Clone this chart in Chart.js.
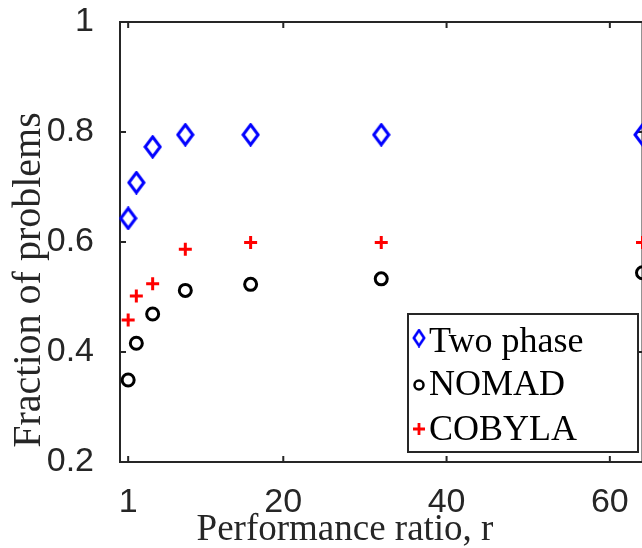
<!DOCTYPE html>
<html>
<head>
<meta charset="utf-8">
<script src="https://cdn.jsdelivr.net/npm/chart.js@4.4.1/dist/chart.umd.min.js"></script>
<style>
html, body { margin: 0; padding: 0; background: #fff; overflow: hidden; }
#wrap { width: 652px; height: 548px; }
</style>
</head>
<body>
<div id="wrap"><canvas id="chart" width="652" height="548"></canvas></div>
<script>
// performance profile data
const ratios = [1, 2, 4, 8, 16, 32, 64];
const twoPhase = [0.643, 0.708, 0.773, 0.795, 0.795, 0.795, 0.795];
const nomad = [0.349, 0.416, 0.469, 0.512, 0.523, 0.533, 0.544];
const cobyla = [0.458, 0.502, 0.524, 0.587, 0.599, 0.599, 0.599];

const seriesNames = ["Two phase", "NOMAD", "COBYLA"];
const xTicks = [1, 20, 40, 60];
const yTicks = [0.2, 0.4, 0.6, 0.8, 1];
const yTickLabels = ["0.2", "0.4", "0.6", "0.8", "1"];
const xTitle = "Performance ratio, r";
const yTitle = "Fraction of problems";

const axisColor = "#262626";

function diamond(w, h, lw, color) {
    const c = document.createElement("canvas");
    c.width = w;
    c.height = h;
    const g = c.getContext("2d");
    g.strokeStyle = color;
    g.lineWidth = lw;
    g.lineJoin = "miter";
    const m = lw / 2 + 0.5;
    g.beginPath();
    g.moveTo(w / 2, m);
    g.lineTo(w - m, h / 2);
    g.lineTo(w / 2, h - m);
    g.lineTo(m, h / 2);
    g.closePath();
    g.stroke();
    return c;
}

const bigDiamond = diamond(19, 24, 3, "#0000ff");
const smallDiamond = diamond(14, 19, 2.6, "#0000ff");

function pts(ys) {
    return ratios.map((r, i) => ({ x: r, y: ys[i] }));
}

// axes box with inward ticks, like matlab "box on"
const boxPlugin = {
    id: "box",
    beforeDatasetsDraw(chart) {
        const { ctx, chartArea: a, scales } = chart;
        ctx.save();
        ctx.strokeStyle = axisColor;
        ctx.lineWidth = 2;
        ctx.strokeRect(a.left, a.top, a.right - a.left, a.bottom - a.top);
        ctx.beginPath();
        xTicks.forEach(v => {
            const px = scales.x.getPixelForValue(v);
            ctx.moveTo(px, a.bottom); ctx.lineTo(px, a.bottom - 6);
            ctx.moveTo(px, a.top); ctx.lineTo(px, a.top + 6);
        });
        yTicks.forEach(v => {
            const py = scales.y.getPixelForValue(v);
            ctx.moveTo(a.left, py); ctx.lineTo(a.left + 6, py);
            ctx.moveTo(a.right, py); ctx.lineTo(a.right - 6, py);
        });
        ctx.stroke();
        ctx.restore();
    },
    afterDraw(chart) {
        const ctx = chart.ctx;
        ctx.save();
        // axis titles
        ctx.fillStyle = axisColor;
        ctx.font = "37px 'Liberation Serif'";
        ctx.textAlign = "center";
        ctx.textBaseline = "alphabetic";
        ctx.fillText(xTitle, 345, 540);
        ctx.translate(40, 280);
        ctx.rotate(-Math.PI / 2);
        ctx.font = "40px 'Liberation Serif'";
        ctx.fillText(yTitle, 0, 0);
        ctx.restore();

        // legend
        ctx.save();
        ctx.fillStyle = "#fff";
        ctx.fillRect(408, 314, 230, 138);
        ctx.strokeStyle = axisColor;
        ctx.lineWidth = 2;
        ctx.strokeRect(408, 314, 230, 138);
        ctx.drawImage(smallDiamond, 419 - 7, 338 - 9.5);
        ctx.strokeStyle = "#000";
        ctx.lineWidth = 2.5;
        ctx.beginPath();
        ctx.arc(419, 385, 4.5, 0, Math.PI * 2);
        ctx.stroke();
        ctx.strokeStyle = "#ff0000";
        ctx.lineWidth = 2.8;
        ctx.beginPath();
        ctx.moveTo(413, 429); ctx.lineTo(425, 429);
        ctx.moveTo(419, 423); ctx.lineTo(419, 435);
        ctx.stroke();
        ctx.fillStyle = "#000";
        ctx.font = "36px 'Liberation Serif'";
        ctx.textAlign = "left";
        ctx.textBaseline = "alphabetic";
        const rows = [352, 395, 440];
        seriesNames.forEach((n, i) => ctx.fillText(n, 429, rows[i]));
        ctx.restore();
    }
};

const ctx = document.getElementById("chart").getContext("2d");
new Chart(ctx, {
    type: "scatter",
    data: {
        datasets: [
            {
                label: seriesNames[0],
                data: pts(twoPhase),
                pointStyle: bigDiamond,
                clip: false
            },
            {
                label: seriesNames[1],
                data: pts(nomad),
                pointStyle: "circle",
                pointRadius: 6,
                borderWidth: 3,
                borderColor: "#000",
                backgroundColor: "rgba(0,0,0,0)",
                clip: false
            },
            {
                label: seriesNames[2],
                data: pts(cobyla),
                pointStyle: "cross",
                pointRadius: 6.5,
                borderWidth: 3,
                borderColor: "#ff0000",
                clip: false
            }
        ]
    },
    options: {
        responsive: false,
        animation: false,
        events: [],
        layout: { padding: { top: 22, right: 5, left: 0, bottom: 0 } },
        plugins: {
            legend: { display: false },
            tooltip: { enabled: false }
        },
        scales: {
            x: {
                type: "linear",
                min: 0,
                max: 64,
                grid: { display: false },
                border: { display: false },
                afterBuildTicks: s => { s.ticks = xTicks.map(v => ({ value: v })); },
                afterFit: s => { s.height = 86; s.paddingLeft = 0; s.paddingRight = 0; },
                ticks: {
                    color: axisColor,
                    padding: 12,
                    maxRotation: 0,
                    font: { family: "'Liberation Sans'", size: 34 }
                }
            },
            y: {
                type: "linear",
                min: 0.2,
                max: 1,
                grid: { display: false },
                border: { display: false },
                afterBuildTicks: s => { s.ticks = yTicks.map(v => ({ value: v })); },
                afterFit: s => { s.width = 120; s.paddingTop = 0; s.paddingBottom = 0; },
                ticks: {
                    color: axisColor,
                    padding: 18,
                    font: { family: "'Liberation Sans'", size: 34 },
                    callback: (v, i) => yTickLabels[i]
                }
            }
        }
    },
    plugins: [boxPlugin]
});
</script>
</body>
</html>
